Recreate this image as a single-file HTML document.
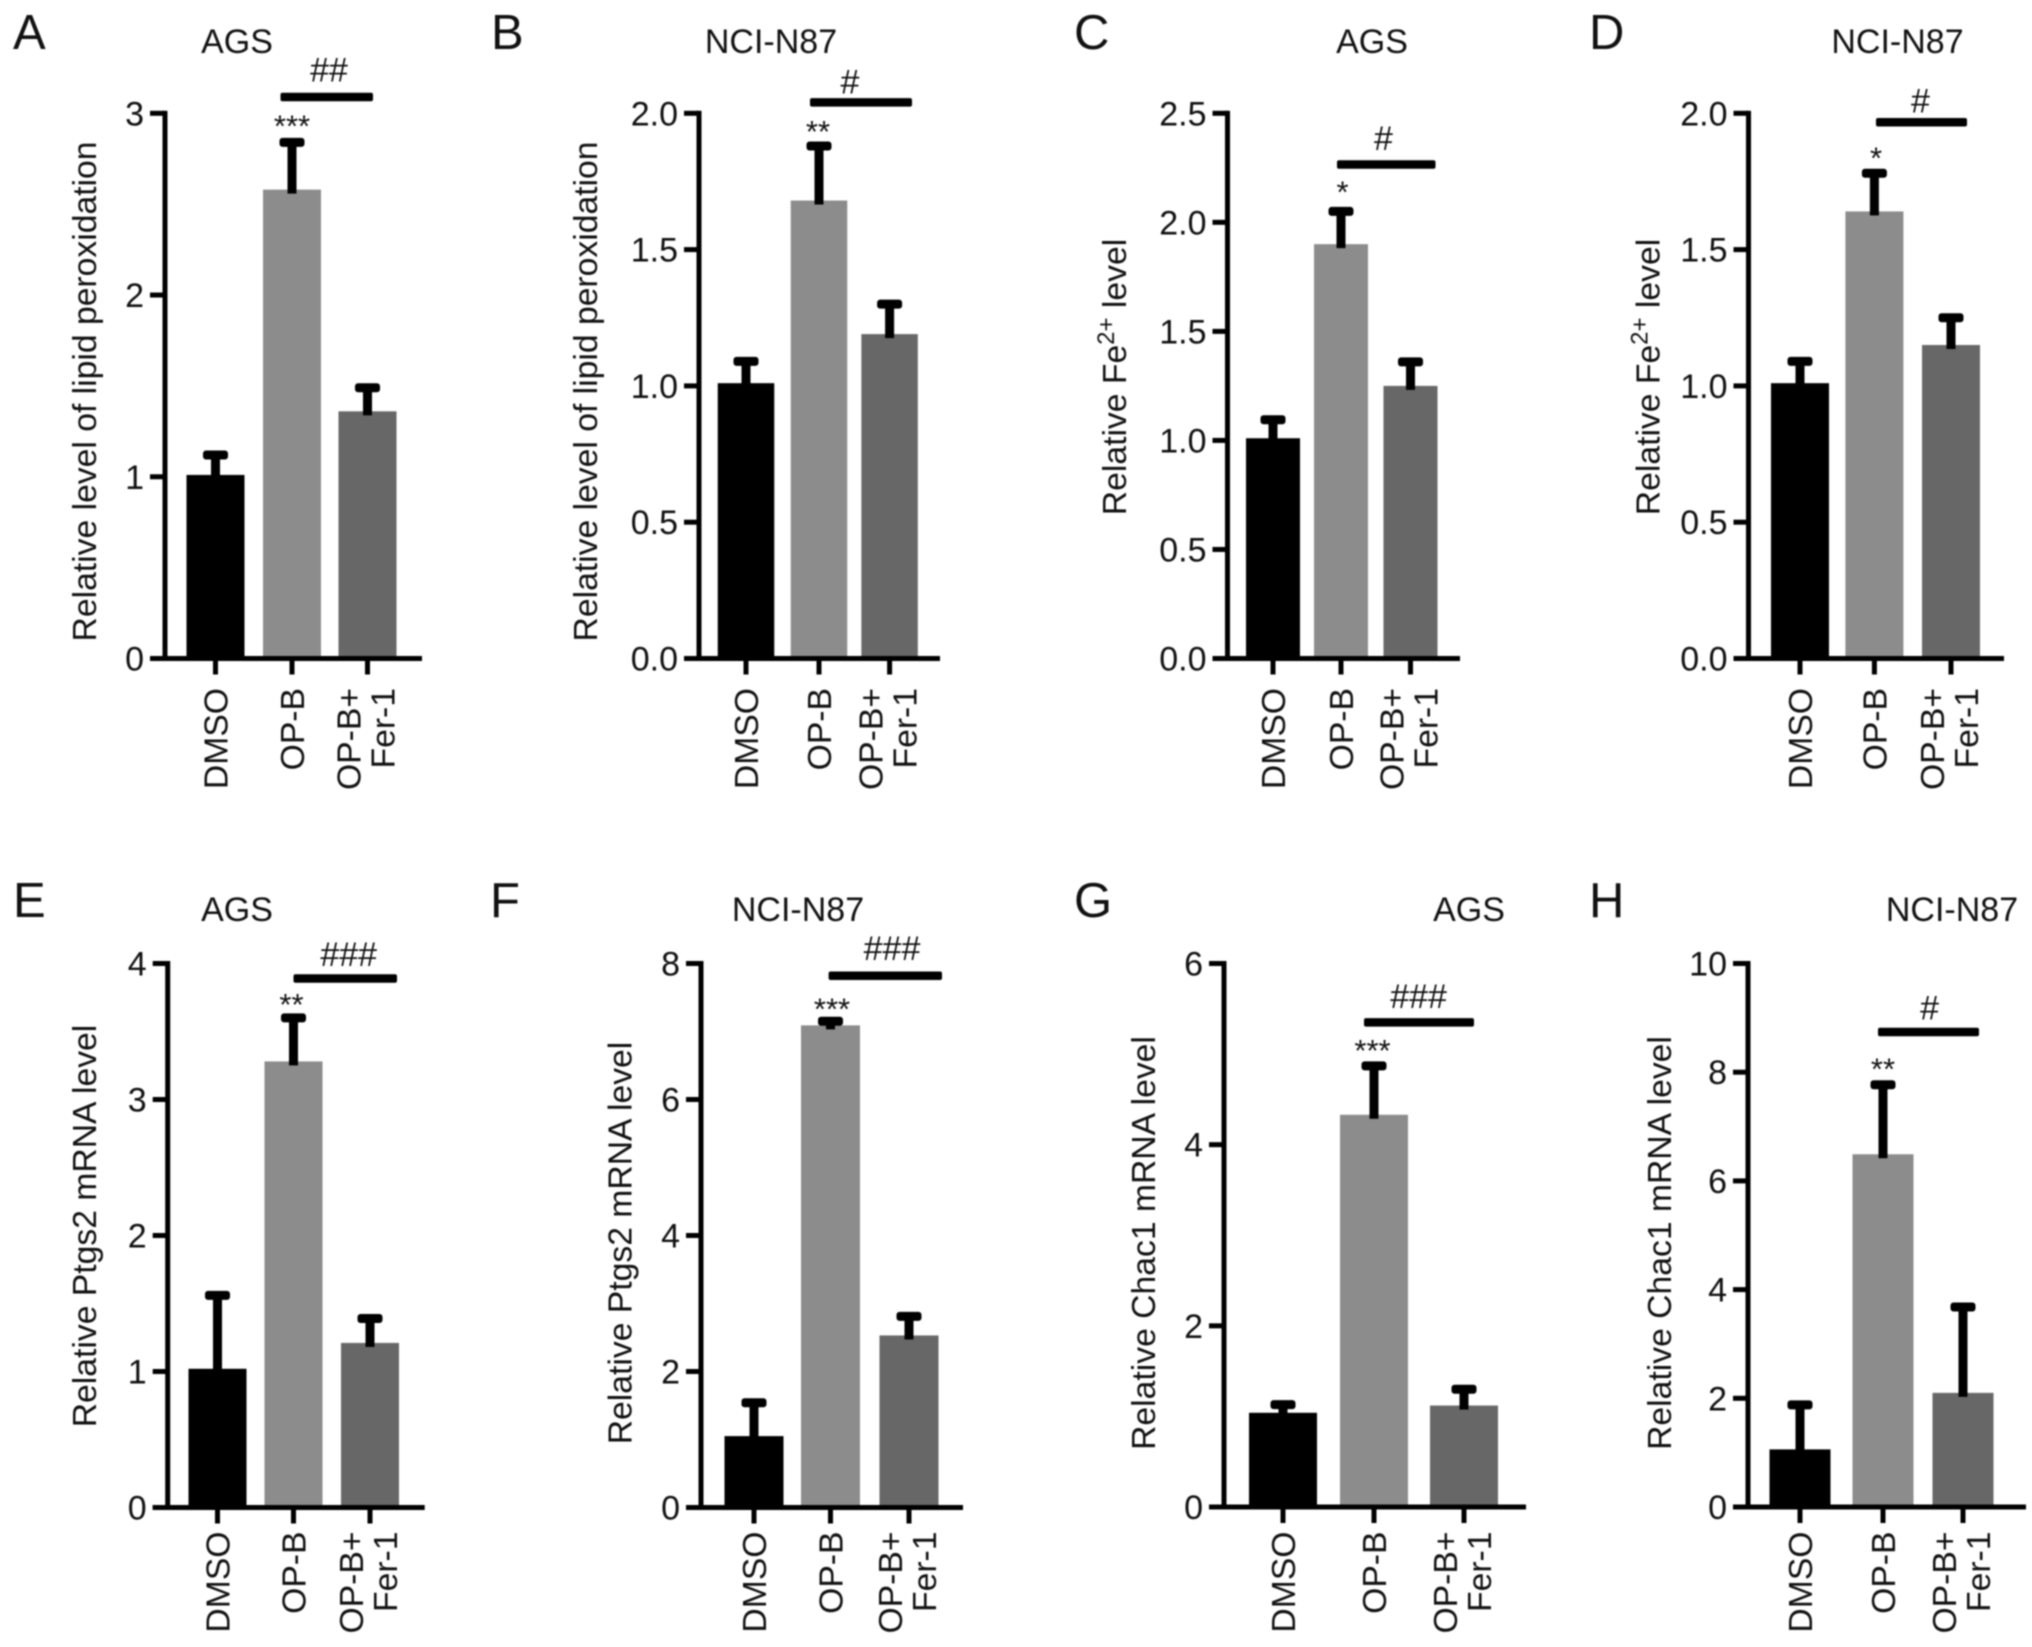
<!DOCTYPE html>
<html lang="en">
<head>
<meta charset="utf-8">
<title>Lipid peroxidation, Fe2+, Ptgs2 and Chac1 levels in AGS and NCI-N87 cells</title>
<style>
html,body{margin:0;padding:0;background:#fff;width:2032px;height:1647px;overflow:hidden}
svg{display:block;filter:blur(.8px)}
text{font-family:"Liberation Sans",sans-serif;fill:#111}
</style>
</head>
<body>
<svg id="figure" xmlns="http://www.w3.org/2000/svg" width="2032" height="1647" viewBox="0 0 2032 1647"></svg>
<script>
var categories = [['DMSO'], ['OP-B'], ['OP-B+', 'Fer-1']];

var panelAMeans = [1.01, 2.58, 1.36];
var panelAErrTops = [1.12, 2.84, 1.49];
var panelATicks = ['0', '1', '2', '3'];
var panelASig = 3.09;

var panelBMeans = [1.01, 1.68, 1.19];
var panelBErrTops = [1.09, 1.88, 1.30];
var panelBTicks = ['0.0', '0.5', '1.0', '1.5', '2.0'];
var panelBSig = 2.04;

var panelCMeans = [1.01, 1.90, 1.25];
var panelCErrTops = [1.095, 2.05, 1.36];
var panelCTicks = ['0.0', '0.5', '1.0', '1.5', '2.0', '2.5'];
var panelCSig = 2.265;

var panelDMeans = [1.01, 1.64, 1.15];
var panelDErrTops = [1.09, 1.78, 1.25];
var panelDTicks = ['0.0', '0.5', '1.0', '1.5', '2.0'];
var panelDSig = 1.967;

var panelEMeans = [1.02, 3.28, 1.21];
var panelEErrTops = [1.56, 3.60, 1.39];
var panelETicks = ['0', '1', '2', '3', '4'];
var panelESig = 3.89;

var panelFMeans = [1.05, 7.09, 2.53];
var panelFErrTops = [1.54, 7.15, 2.81];
var panelFTicks = ['0', '2', '4', '6', '8'];
var panelFSig = 7.82;

var panelGMeans = [1.04, 4.33, 1.12];
var panelGErrTops = [1.13, 4.87, 1.30];
var panelGTicks = ['0', '2', '4', '6'];
var panelGSig = 5.35;

var panelHMeans = [1.06, 6.49, 2.10];
var panelHErrTops = [1.88, 7.77, 3.68];
var panelHTicks = ['0', '2', '4', '6', '8', '10'];
var panelHSig = 8.74;

var barColors = ['#000000', '#8c8c8c', '#676767'];

var panels = [
 {letter:'A', title:'AGS', yLabel:'Relative level of lipid peroxidation', means:panelAMeans, errs:panelAErrTops, ticks:panelATicks, sig:panelASig, stars:'***', hash:'##',
  axisX:165, axisEnd:422, top:113.3, base:658.5, centers:[215.5,292,367.5], barW:58, sigX:[280.5,373], hashX:329, hashDy:-27, starX:292, starDy:-20, labelX:96, labelY:391.5, titleX:237, titleY:53, letterX:13, letterY:49, xLabelDy:29.5},
 {letter:'B', title:'NCI-N87', yLabel:'Relative level of lipid peroxidation', means:panelBMeans, errs:panelBErrTops, ticks:panelBTicks, sig:panelBSig, stars:'**', hash:'#',
  axisX:699, axisEnd:940, top:113.3, base:658.5, centers:[746,819,889.6], barW:56.5, sigX:[810,912], hashX:850, hashDy:-20.5, starX:818, starDy:-18, labelX:597, labelY:391.5, titleX:771, titleY:53, letterX:491, letterY:49, xLabelDy:29.5},
 {letter:'C', title:'AGS', yLabel:'Relative Fe|2+| level', means:panelCMeans, errs:panelCErrTops, ticks:panelCTicks, sig:panelCSig, stars:'*', hash:'#',
  axisX:1227.5, axisEnd:1460, top:113.3, base:658.5, centers:[1273,1341,1410.5], barW:54, sigX:[1337,1435.5], hashX:1383.5, hashDy:-26, starX:1342.6, starDy:-23, labelX:1126, labelY:377, titleX:1372, titleY:53, letterX:1074, letterY:49, xLabelDy:29.5},
 {letter:'D', title:'NCI-N87', yLabel:'Relative Fe|2+| level', means:panelDMeans, errs:panelDErrTops, ticks:panelDTicks, sig:panelDSig, stars:'*', hash:'#',
  axisX:1748.5, axisEnd:2004, top:113.3, base:658.5, centers:[1800,1874.4,1951], barW:58, sigX:[1876,1967], hashX:1920.5, hashDy:-21.5, starX:1876, starDy:-19, labelX:1659.5, labelY:377, titleX:1897.5, titleY:53, letterX:1589, letterY:49, xLabelDy:29.5},
 {letter:'E', title:'AGS', yLabel:'Relative Ptgs2 mRNA level', means:panelEMeans, errs:panelEErrTops, ticks:panelETicks, sig:panelESig, stars:'**', hash:'###',
  axisX:167.7, axisEnd:424.7, top:963.5, base:1507.5, centers:[217.5,293.5,370], barW:58, sigX:[293.5,397], hashX:348.7, hashDy:-24, starX:291.5, starDy:-17, labelX:96, labelY:1226, titleX:237, titleY:921, letterX:13, letterY:917, xLabelDy:24},
 {letter:'F', title:'NCI-N87', yLabel:'Relative Ptgs2 mRNA level', means:panelFMeans, errs:panelFErrTops, ticks:panelFTicks, sig:panelFSig, stars:'***', hash:'###',
  axisX:701, axisEnd:963, top:963.5, base:1507.5, centers:[754,830.5,909], barW:59, sigX:[828.6,942], hashX:892, hashDy:-27, starX:832, starDy:-16, labelX:631.5, labelY:1243, titleX:798, titleY:921, letterX:490, letterY:917, xLabelDy:24},
 {letter:'G', title:'AGS', yLabel:'Relative Chac1 mRNA level', means:panelGMeans, errs:panelGErrTops, ticks:panelGTicks, sig:panelGSig, stars:'***', hash:'###',
  axisX:1224, axisEnd:1526, top:963.5, base:1507, centers:[1283,1374,1464], barW:68, sigX:[1364,1474], hashX:1418.6, hashDy:-26, starX:1372.5, starDy:-19, labelX:1155, labelY:1243, titleX:1469, titleY:921, letterX:1074, letterY:917, xLabelDy:24.5},
 {letter:'H', title:'NCI-N87', yLabel:'Relative Chac1 mRNA level', means:panelHMeans, errs:panelHErrTops, ticks:panelHTicks, sig:panelHSig, stars:'**', hash:'#',
  axisX:1748, axisEnd:2026, top:963.5, base:1507, centers:[1800,1883,1963], barW:61, sigX:[1878,1979], hashX:1929.6, hashDy:-24, starX:1883, starDy:-19, labelX:1671, labelY:1243, titleX:1952, titleY:921, letterX:1589, letterY:917, xLabelDy:24.5}
];

var NS = 'http://www.w3.org/2000/svg';
var fig = document.getElementById('figure');

function mk(tag, attrs, parent, txt) {
  var node = document.createElementNS(NS, tag);
  for (var k in attrs) node.setAttribute(k, attrs[k]);
  if (txt !== undefined) node.textContent = txt;
  parent.appendChild(node);
  return node;
}

panels.forEach(function (p) {
  var yMax = Number(p.ticks[p.ticks.length - 1]);
  function yScale(v) { return p.base - (v / yMax) * (p.base - p.top); }

  var g = mk('g', {}, fig);
  
  

  var el = mk('text', {x:p.letterX, y:p.letterY, 'font-size':49}, g, p.letter);
  
  

  el = mk('text', {x:p.titleX, y:p.titleY, 'font-size':34, 'text-anchor':'middle'}, g, p.title);
  
  

  // y axis title; pipes mark the superscript
  var parts = p.yLabel.split('|');
  el = mk('text', {x:0, y:0, 'font-size':33.7, 'text-anchor':'middle', transform:'translate(' + p.labelX + ' ' + p.labelY + ') rotate(-90)'}, g);
  
  
  mk('tspan', {}, el, parts[0]);
  if (parts.length > 1) {
    mk('tspan', {dy:-12, 'font-size':24}, el, parts[1]);
    mk('tspan', {dy:12}, el, parts[2]);
  }

  // bars
  p.means.forEach(function (v, i) {
    var yTop = yScale(v);
    var bar = mk('rect', {x:p.centers[i] - p.barW / 2, y:yTop, width:p.barW, height:p.base - yTop, fill:barColors[i]}, g);
    
    
  });

  // error bars: the cap is centred on the upper error value
  p.errs.forEach(function (v, i) {
    var yTop = yScale(v);
    var yMean = yScale(p.means[i]);
    var stem = mk('rect', {x:p.centers[i] - 4.5, y:yTop, width:9, height:yMean - yTop + 4, fill:'#000'}, g);
    
    
    var cap = mk('rect', {x:p.centers[i] - 12.5, y:yTop - 4.5, width:25, height:9, rx:3, fill:'#000'}, g);
    
    
  });

  // axes
  var yAxis = mk('rect', {x:p.axisX - 2.5, y:p.top - 2.5, width:5, height:p.base - p.top + 5, fill:'#000'}, g);
  
  
  var xAxis = mk('rect', {x:p.axisX - 15, y:p.base - 2.5, width:p.axisEnd - p.axisX + 15, height:5, fill:'#000'}, g);
  
  

  // y ticks and labels
  p.ticks.forEach(function (t) {
    var y = yScale(Number(t));
    var tick = mk('rect', {x:p.axisX - 15, y:y - 2.5, width:15, height:5, fill:'#000'}, g);
    
    
    var lab = mk('text', {x:p.axisX - 21, y:y + 12, 'font-size':34, 'text-anchor':'end'}, g, t);
    
    
  });

  // x ticks and labels
  categories.forEach(function (lines, i) {
    var c = p.centers[i];
    var tick = mk('rect', {x:c - 2.5, y:p.base, width:5, height:16, fill:'#000'}, g);
    
    
    lines.forEach(function (line, j) {
      var bx = lines.length === 1 ? c + 12 : c + (j === 0 ? -7 : 27);
      var by = p.base + p.xLabelDy;
      var lab = mk('text', {x:0, y:0, 'font-size':33.7, 'text-anchor':'end', transform:'translate(' + bx + ' ' + by + ') rotate(-90)'}, g, line);
      
      
    });
  });

  // significance annotations
  var sigY = yScale(p.sig);
  var sigBar = mk('rect', {x:p.sigX[0], y:sigY - 4.25, width:p.sigX[1] - p.sigX[0], height:8.5, rx:2, fill:'#000'}, g);
  
  

  var hash = mk('text', {x:p.hashX, y:sigY + p.hashDy + 11.5, 'font-size':34, 'text-anchor':'middle'}, g, p.hash);
  
  

  var starBase = yScale(p.errs[1]) + p.starDy + 14;
  var star = mk('text', {x:p.starX, y:starBase, 'font-size':31, 'text-anchor':'middle'}, g, p.stars);
  
  
});
</script>
</body>
</html>
